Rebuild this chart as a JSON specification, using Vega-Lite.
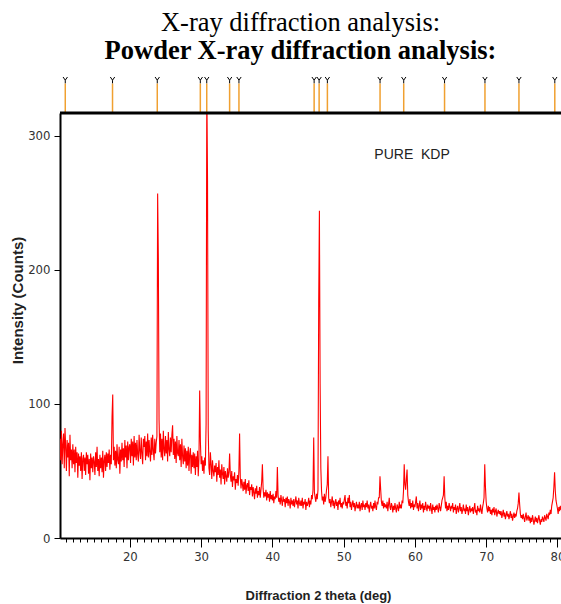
{
  "$schema": "https://vega.github.io/schema/vega-lite/v6.json",
  "width": 501,
  "height": 425,
  "autosize": {"type": "none"},
  "padding": {"left": 60, "top": 113, "right": 0, "bottom": 66},
  "background": "white",
  "title": {
    "text": "X-ray diffraction analysis:",
    "subtitle": "Powder X-ray diffraction analysis:",
    "font": "Liberation Serif", "fontSize": 26.5, "fontWeight": "normal", "color": "black",
    "subtitleFont": "Liberation Serif", "subtitleFontSize": 26.5, "subtitleFontWeight": "bold", "subtitleColor": "black",
    "subtitlePadding": 2,
    "anchor": "middle", "dx": -10, "offset": 10
  },
  "config": {"view": {"stroke": null}},
  "datasets": {
    "scan": [
      {"theta":10.2,"counts":74},{"theta":10.3,"counts":58},{"theta":10.4,"counts":80},{"theta":10.5,"counts":55},{"theta":10.6,"counts":70},{"theta":10.7,"counts":78},{"theta":10.8,"counts":52},{"theta":10.9,"counts":82},
      {"theta":11.0,"counts":68},{"theta":11.1,"counts":50},{"theta":11.2,"counts":73},{"theta":11.3,"counts":60},{"theta":11.4,"counts":71},{"theta":11.5,"counts":46},{"theta":11.6,"counts":77},{"theta":11.7,"counts":58},{"theta":11.8,"counts":66},{"theta":11.9,"counts":52},
      {"theta":12.0,"counts":70},{"theta":12.1,"counts":55},{"theta":12.2,"counts":66},{"theta":12.3,"counts":49},{"theta":12.4,"counts":68},{"theta":12.5,"counts":56},{"theta":12.6,"counts":64},{"theta":12.7,"counts":45},{"theta":12.8,"counts":63},{"theta":12.9,"counts":54},
      {"theta":13.0,"counts":61},{"theta":13.1,"counts":50},{"theta":13.2,"counts":64},{"theta":13.3,"counts":44},{"theta":13.4,"counts":59},{"theta":13.5,"counts":62},{"theta":13.6,"counts":50},{"theta":13.7,"counts":60},{"theta":13.8,"counts":47},{"theta":13.9,"counts":64},
      {"theta":14.0,"counts":55},{"theta":14.1,"counts":62},{"theta":14.2,"counts":48},{"theta":14.3,"counts":59},{"theta":14.4,"counts":43},{"theta":14.5,"counts":63},{"theta":14.6,"counts":52},{"theta":14.7,"counts":60},{"theta":14.8,"counts":49},{"theta":14.9,"counts":61},
      {"theta":15.0,"counts":57},{"theta":15.1,"counts":47},{"theta":15.2,"counts":64},{"theta":15.3,"counts":53},{"theta":15.4,"counts":68},{"theta":15.5,"counts":50},{"theta":15.6,"counts":59},{"theta":15.7,"counts":46},{"theta":15.8,"counts":62},{"theta":15.9,"counts":52},
      {"theta":16.0,"counts":60},{"theta":16.1,"counts":49},{"theta":16.2,"counts":65},{"theta":16.3,"counts":45},{"theta":16.4,"counts":58},{"theta":16.5,"counts":62},{"theta":16.6,"counts":50},{"theta":16.7,"counts":64},{"theta":16.8,"counts":53},{"theta":16.9,"counts":63},
      {"theta":17.0,"counts":56},{"theta":17.1,"counts":66},{"theta":17.2,"counts":51},{"theta":17.3,"counts":62},{"theta":17.4,"counts":55},{"theta":17.5,"counts":90},{"theta":17.6,"counts":107},{"theta":17.7,"counts":58},{"theta":17.8,"counts":68},{"theta":17.9,"counts":54},
      {"theta":18.0,"counts":65},{"theta":18.1,"counts":52},{"theta":18.2,"counts":70},{"theta":18.3,"counts":58},{"theta":18.4,"counts":55},{"theta":18.5,"counts":68},{"theta":18.6,"counts":48},{"theta":18.7,"counts":66},{"theta":18.8,"counts":57},{"theta":18.9,"counts":71},
      {"theta":19.0,"counts":58},{"theta":19.1,"counts":67},{"theta":19.2,"counts":53},{"theta":19.3,"counts":73},{"theta":19.4,"counts":60},{"theta":19.5,"counts":69},{"theta":19.6,"counts":52},{"theta":19.7,"counts":72},{"theta":19.8,"counts":58},{"theta":19.9,"counts":68},
      {"theta":20.0,"counts":70},{"theta":20.1,"counts":56},{"theta":20.2,"counts":74},{"theta":20.3,"counts":61},{"theta":20.4,"counts":72},{"theta":20.5,"counts":54},{"theta":20.6,"counts":76},{"theta":20.7,"counts":60},{"theta":20.8,"counts":71},{"theta":20.9,"counts":58},
      {"theta":21.0,"counts":73},{"theta":21.1,"counts":62},{"theta":21.2,"counts":57},{"theta":21.3,"counts":77},{"theta":21.4,"counts":65},{"theta":21.5,"counts":59},{"theta":21.6,"counts":75},{"theta":21.7,"counts":63},{"theta":21.8,"counts":55},{"theta":21.9,"counts":74},
      {"theta":22.0,"counts":68},{"theta":22.1,"counts":76},{"theta":22.2,"counts":58},{"theta":22.3,"counts":72},{"theta":22.4,"counts":61},{"theta":22.5,"counts":78},{"theta":22.6,"counts":60},{"theta":22.7,"counts":73},{"theta":22.8,"counts":64},{"theta":22.9,"counts":57},
      {"theta":23.0,"counts":75},{"theta":23.1,"counts":62},{"theta":23.2,"counts":77},{"theta":23.3,"counts":65},{"theta":23.4,"counts":58},{"theta":23.5,"counts":74},{"theta":23.6,"counts":63},{"theta":23.7,"counts":71},{"theta":23.8,"counts":76},{"theta":23.9,"counts":257},
      {"theta":24.0,"counts":209},{"theta":24.1,"counts":88},{"theta":24.2,"counts":64},{"theta":24.3,"counts":78},{"theta":24.4,"counts":60},{"theta":24.5,"counts":74},{"theta":24.6,"counts":58},{"theta":24.7,"counts":80},{"theta":24.8,"counts":66},{"theta":24.9,"counts":61},
      {"theta":25.0,"counts":76},{"theta":25.1,"counts":63},{"theta":25.2,"counts":73},{"theta":25.3,"counts":57},{"theta":25.4,"counts":79},{"theta":25.5,"counts":66},{"theta":25.6,"counts":61},{"theta":25.7,"counts":75},{"theta":25.8,"counts":64},{"theta":25.9,"counts":77},
      {"theta":26.0,"counts":84},{"theta":26.1,"counts":62},{"theta":26.2,"counts":74},{"theta":26.3,"counts":59},{"theta":26.4,"counts":72},{"theta":26.5,"counts":56},{"theta":26.6,"counts":76},{"theta":26.7,"counts":63},{"theta":26.8,"counts":61},{"theta":26.9,"counts":73},
      {"theta":27.0,"counts":58},{"theta":27.1,"counts":70},{"theta":27.2,"counts":53},{"theta":27.3,"counts":74},{"theta":27.4,"counts":61},{"theta":27.5,"counts":55},{"theta":27.6,"counts":69},{"theta":27.7,"counts":57},{"theta":27.8,"counts":67},{"theta":27.9,"counts":52},
      {"theta":28.0,"counts":65},{"theta":28.1,"counts":54},{"theta":28.2,"counts":68},{"theta":28.3,"counts":50},{"theta":28.4,"counts":63},{"theta":28.5,"counts":67},{"theta":28.6,"counts":48},{"theta":28.7,"counts":62},{"theta":28.8,"counts":53},{"theta":28.9,"counts":64},
      {"theta":29.0,"counts":52},{"theta":29.1,"counts":63},{"theta":29.2,"counts":47},{"theta":29.3,"counts":61},{"theta":29.4,"counts":53},{"theta":29.5,"counts":65},{"theta":29.6,"counts":46},{"theta":29.7,"counts":59},{"theta":29.8,"counts":110},{"theta":29.9,"counts":72},
      {"theta":30.0,"counts":55},{"theta":30.1,"counts":61},{"theta":30.2,"counts":50},{"theta":30.3,"counts":58},{"theta":30.4,"counts":48},{"theta":30.5,"counts":60},{"theta":30.6,"counts":54},{"theta":30.7,"counts":85},{"theta":30.8,"counts":340},{"theta":30.9,"counts":267},
      {"theta":31.0,"counts":80},{"theta":31.1,"counts":52},{"theta":31.2,"counts":47},{"theta":31.3,"counts":64},{"theta":31.4,"counts":55},{"theta":31.5,"counts":44},{"theta":31.6,"counts":58},{"theta":31.7,"counts":50},{"theta":31.8,"counts":46},{"theta":31.9,"counts":54},
      {"theta":32.0,"counts":49},{"theta":32.1,"counts":56},{"theta":32.2,"counts":42},{"theta":32.3,"counts":53},{"theta":32.4,"counts":47},{"theta":32.5,"counts":58},{"theta":32.6,"counts":45},{"theta":32.7,"counts":51},{"theta":32.8,"counts":40},{"theta":32.9,"counts":55},
      {"theta":33.0,"counts":48},{"theta":33.1,"counts":44},{"theta":33.2,"counts":53},{"theta":33.3,"counts":40},{"theta":33.4,"counts":50},{"theta":33.5,"counts":46},{"theta":33.6,"counts":42},{"theta":33.7,"counts":52},{"theta":33.8,"counts":45},{"theta":33.9,"counts":49},
      {"theta":34.0,"counts":63},{"theta":34.1,"counts":47},{"theta":34.2,"counts":42},{"theta":34.3,"counts":50},{"theta":34.4,"counts":38},{"theta":34.5,"counts":46},{"theta":34.6,"counts":43},{"theta":34.7,"counts":49},{"theta":34.8,"counts":36},{"theta":34.9,"counts":44},
      {"theta":35.0,"counts":41},{"theta":35.1,"counts":47},{"theta":35.2,"counts":39},{"theta":35.3,"counts":50},{"theta":35.4,"counts":78},{"theta":35.5,"counts":45},{"theta":35.6,"counts":37},{"theta":35.7,"counts":44},{"theta":35.8,"counts":40},{"theta":35.9,"counts":35},
      {"theta":36.0,"counts":42},{"theta":36.1,"counts":36},{"theta":36.2,"counts":44},{"theta":36.3,"counts":33},{"theta":36.4,"counts":39},{"theta":36.5,"counts":41},{"theta":36.6,"counts":35},{"theta":36.7,"counts":43},{"theta":36.8,"counts":32},{"theta":36.9,"counts":38},
      {"theta":37.0,"counts":36},{"theta":37.1,"counts":40},{"theta":37.2,"counts":31},{"theta":37.3,"counts":38},{"theta":37.4,"counts":34},{"theta":37.5,"counts":29},{"theta":37.6,"counts":37},{"theta":37.7,"counts":33},{"theta":37.8,"counts":39},{"theta":37.9,"counts":30},
      {"theta":38.0,"counts":35},{"theta":38.1,"counts":32},{"theta":38.2,"counts":38},{"theta":38.3,"counts":30},{"theta":38.4,"counts":36},{"theta":38.5,"counts":42},{"theta":38.6,"counts":55},{"theta":38.7,"counts":37},{"theta":38.8,"counts":30},{"theta":38.9,"counts":34},
      {"theta":39.0,"counts":31},{"theta":39.1,"counts":36},{"theta":39.2,"counts":28},{"theta":39.3,"counts":34},{"theta":39.4,"counts":30},{"theta":39.5,"counts":33},{"theta":39.6,"counts":27},{"theta":39.7,"counts":35},{"theta":39.8,"counts":29},{"theta":39.9,"counts":32},
      {"theta":40.0,"counts":28},{"theta":40.1,"counts":33},{"theta":40.2,"counts":26},{"theta":40.3,"counts":31},{"theta":40.4,"counts":29},{"theta":40.5,"counts":35},{"theta":40.6,"counts":30},{"theta":40.7,"counts":53},{"theta":40.8,"counts":32},{"theta":40.9,"counts":27},
      {"theta":41.0,"counts":30},{"theta":41.1,"counts":25},{"theta":41.2,"counts":32},{"theta":41.3,"counts":28},{"theta":41.4,"counts":24},{"theta":41.5,"counts":31},{"theta":41.6,"counts":27},{"theta":41.7,"counts":29},{"theta":41.8,"counts":23},{"theta":41.9,"counts":30},
      {"theta":42.0,"counts":26},{"theta":42.1,"counts":31},{"theta":42.2,"counts":24},{"theta":42.3,"counts":29},{"theta":42.4,"counts":27},{"theta":42.5,"counts":22},{"theta":42.6,"counts":30},{"theta":42.7,"counts":25},{"theta":42.8,"counts":28},{"theta":42.9,"counts":24},
      {"theta":43.0,"counts":29},{"theta":43.1,"counts":23},{"theta":43.2,"counts":27},{"theta":43.3,"counts":31},{"theta":43.4,"counts":25},{"theta":43.5,"counts":28},{"theta":43.6,"counts":22},{"theta":43.7,"counts":30},{"theta":43.8,"counts":26},{"theta":43.9,"counts":24},
      {"theta":44.0,"counts":28},{"theta":44.1,"counts":24},{"theta":44.2,"counts":30},{"theta":44.3,"counts":22},{"theta":44.4,"counts":27},{"theta":44.5,"counts":25},{"theta":44.6,"counts":29},{"theta":44.7,"counts":21},{"theta":44.8,"counts":27},{"theta":44.9,"counts":24},
      {"theta":45.0,"counts":26},{"theta":45.1,"counts":30},{"theta":45.2,"counts":23},{"theta":45.3,"counts":28},{"theta":45.4,"counts":25},{"theta":45.5,"counts":32},{"theta":45.6,"counts":29},{"theta":45.7,"counts":36},{"theta":45.8,"counts":75},{"theta":45.9,"counts":34},
      {"theta":46.0,"counts":30},{"theta":46.1,"counts":27},{"theta":46.2,"counts":33},{"theta":46.3,"counts":29},{"theta":46.4,"counts":36},{"theta":46.5,"counts":175},{"theta":46.6,"counts":244},{"theta":46.7,"counts":115},{"theta":46.8,"counts":52},{"theta":46.9,"counts":35},
      {"theta":47.0,"counts":28},{"theta":47.1,"counts":31},{"theta":47.2,"counts":25},{"theta":47.3,"counts":33},{"theta":47.4,"counts":27},{"theta":47.5,"counts":30},{"theta":47.6,"counts":36},{"theta":47.7,"counts":40},{"theta":47.8,"counts":61},{"theta":47.9,"counts":30},
      {"theta":48.0,"counts":26},{"theta":48.1,"counts":29},{"theta":48.2,"counts":23},{"theta":48.3,"counts":27},{"theta":48.4,"counts":31},{"theta":48.5,"counts":24},{"theta":48.6,"counts":28},{"theta":48.7,"counts":22},{"theta":48.8,"counts":26},{"theta":48.9,"counts":29},
      {"theta":49.0,"counts":24},{"theta":49.1,"counts":27},{"theta":49.2,"counts":21},{"theta":49.3,"counts":28},{"theta":49.4,"counts":25},{"theta":49.5,"counts":30},{"theta":49.6,"counts":23},{"theta":49.7,"counts":26},{"theta":49.8,"counts":22},{"theta":49.9,"counts":27},
      {"theta":50.0,"counts":25},{"theta":50.1,"counts":29},{"theta":50.2,"counts":32},{"theta":50.3,"counts":24},{"theta":50.4,"counts":27},{"theta":50.5,"counts":22},{"theta":50.6,"counts":30},{"theta":50.7,"counts":26},{"theta":50.8,"counts":32},{"theta":50.9,"counts":23},
      {"theta":51.0,"counts":27},{"theta":51.1,"counts":21},{"theta":51.2,"counts":25},{"theta":51.3,"counts":28},{"theta":51.4,"counts":23},{"theta":51.5,"counts":26},{"theta":51.6,"counts":20},{"theta":51.7,"counts":24},{"theta":51.8,"counts":27},{"theta":51.9,"counts":22},
      {"theta":52.0,"counts":25},{"theta":52.1,"counts":22},{"theta":52.2,"counts":27},{"theta":52.3,"counts":20},{"theta":52.4,"counts":24},{"theta":52.5,"counts":26},{"theta":52.6,"counts":21},{"theta":52.7,"counts":28},{"theta":52.8,"counts":23},{"theta":52.9,"counts":25},
      {"theta":53.0,"counts":21},{"theta":53.1,"counts":26},{"theta":53.2,"counts":23},{"theta":53.3,"counts":28},{"theta":53.4,"counts":22},{"theta":53.5,"counts":25},{"theta":53.6,"counts":19},{"theta":53.7,"counts":24},{"theta":53.8,"counts":27},{"theta":53.9,"counts":22},
      {"theta":54.0,"counts":24},{"theta":54.1,"counts":20},{"theta":54.2,"counts":26},{"theta":54.3,"counts":22},{"theta":54.4,"counts":28},{"theta":54.5,"counts":23},{"theta":54.6,"counts":21},{"theta":54.7,"counts":27},{"theta":54.8,"counts":25},{"theta":54.9,"counts":30},
      {"theta":55.0,"counts":30},{"theta":55.1,"counts":46},{"theta":55.2,"counts":36},{"theta":55.3,"counts":27},{"theta":55.4,"counts":24},{"theta":55.5,"counts":28},{"theta":55.6,"counts":22},{"theta":55.7,"counts":26},{"theta":55.8,"counts":23},{"theta":55.9,"counts":25},
      {"theta":56.0,"counts":22},{"theta":56.1,"counts":27},{"theta":56.2,"counts":20},{"theta":56.3,"counts":25},{"theta":56.4,"counts":30},{"theta":56.5,"counts":23},{"theta":56.6,"counts":21},{"theta":56.7,"counts":26},{"theta":56.8,"counts":24},{"theta":56.9,"counts":19},
      {"theta":57.0,"counts":24},{"theta":57.1,"counts":21},{"theta":57.2,"counts":26},{"theta":57.3,"counts":22},{"theta":57.4,"counts":19},{"theta":57.5,"counts":25},{"theta":57.6,"counts":23},{"theta":57.7,"counts":20},{"theta":57.8,"counts":27},{"theta":57.9,"counts":22},
      {"theta":58.0,"counts":25},{"theta":58.1,"counts":22},{"theta":58.2,"counts":28},{"theta":58.3,"counts":26},{"theta":58.4,"counts":35},{"theta":58.5,"counts":55},{"theta":58.6,"counts":40},{"theta":58.7,"counts":36},{"theta":58.8,"counts":44},{"theta":58.9,"counts":51},
      {"theta":59.0,"counts":32},{"theta":59.1,"counts":27},{"theta":59.2,"counts":24},{"theta":59.3,"counts":29},{"theta":59.4,"counts":22},{"theta":59.5,"counts":26},{"theta":59.6,"counts":23},{"theta":59.7,"counts":28},{"theta":59.8,"counts":21},{"theta":59.9,"counts":25},
      {"theta":60.0,"counts":23},{"theta":60.1,"counts":27},{"theta":60.2,"counts":31},{"theta":60.3,"counts":22},{"theta":60.4,"counts":26},{"theta":60.5,"counts":20},{"theta":60.6,"counts":24},{"theta":60.7,"counts":28},{"theta":60.8,"counts":21},{"theta":60.9,"counts":25},
      {"theta":61.0,"counts":22},{"theta":61.1,"counts":26},{"theta":61.2,"counts":19},{"theta":61.3,"counts":24},{"theta":61.4,"counts":21},{"theta":61.5,"counts":27},{"theta":61.6,"counts":23},{"theta":61.7,"counts":20},{"theta":61.8,"counts":25},{"theta":61.9,"counts":22},
      {"theta":62.0,"counts":24},{"theta":62.1,"counts":20},{"theta":62.2,"counts":26},{"theta":62.3,"counts":22},{"theta":62.4,"counts":18},{"theta":62.5,"counts":25},{"theta":62.6,"counts":21},{"theta":62.7,"counts":23},{"theta":62.8,"counts":19},{"theta":62.9,"counts":24},
      {"theta":63.0,"counts":21},{"theta":63.1,"counts":25},{"theta":63.2,"counts":22},{"theta":63.3,"counts":19},{"theta":63.4,"counts":26},{"theta":63.5,"counts":23},{"theta":63.6,"counts":20},{"theta":63.7,"counts":24},{"theta":63.8,"counts":28},{"theta":63.9,"counts":30},
      {"theta":64.0,"counts":32},{"theta":64.1,"counts":46},{"theta":64.2,"counts":30},{"theta":64.3,"counts":22},{"theta":64.4,"counts":27},{"theta":64.5,"counts":20},{"theta":64.6,"counts":24},{"theta":64.7,"counts":21},{"theta":64.8,"counts":26},{"theta":64.9,"counts":23},
      {"theta":65.0,"counts":20},{"theta":65.1,"counts":24},{"theta":65.2,"counts":22},{"theta":65.3,"counts":26},{"theta":65.4,"counts":19},{"theta":65.5,"counts":23},{"theta":65.6,"counts":21},{"theta":65.7,"counts":25},{"theta":65.8,"counts":18},{"theta":65.9,"counts":22},
      {"theta":66.0,"counts":24},{"theta":66.1,"counts":19},{"theta":66.2,"counts":22},{"theta":66.3,"counts":26},{"theta":66.4,"counts":20},{"theta":66.5,"counts":23},{"theta":66.6,"counts":18},{"theta":66.7,"counts":21},{"theta":66.8,"counts":25},{"theta":66.9,"counts":20},
      {"theta":67.0,"counts":22},{"theta":67.1,"counts":18},{"theta":67.2,"counts":25},{"theta":67.3,"counts":20},{"theta":67.4,"counts":23},{"theta":67.5,"counts":17},{"theta":67.6,"counts":21},{"theta":67.7,"counts":24},{"theta":67.8,"counts":19},{"theta":67.9,"counts":22},
      {"theta":68.0,"counts":20},{"theta":68.1,"counts":23},{"theta":68.2,"counts":18},{"theta":68.3,"counts":22},{"theta":68.4,"counts":26},{"theta":68.5,"counts":19},{"theta":68.6,"counts":21},{"theta":68.7,"counts":17},{"theta":68.8,"counts":24},{"theta":68.9,"counts":20},
      {"theta":69.0,"counts":22},{"theta":69.1,"counts":19},{"theta":69.2,"counts":25},{"theta":69.3,"counts":21},{"theta":69.4,"counts":18},{"theta":69.5,"counts":23},{"theta":69.6,"counts":26},{"theta":69.7,"counts":30},{"theta":69.8,"counts":55},{"theta":69.9,"counts":38},
      {"theta":70.0,"counts":27},{"theta":70.1,"counts":22},{"theta":70.2,"counts":19},{"theta":70.3,"counts":24},{"theta":70.4,"counts":20},{"theta":70.5,"counts":23},{"theta":70.6,"counts":18},{"theta":70.7,"counts":21},{"theta":70.8,"counts":17},{"theta":70.9,"counts":22},
      {"theta":71.0,"counts":19},{"theta":71.1,"counts":23},{"theta":71.2,"counts":17},{"theta":71.3,"counts":20},{"theta":71.4,"counts":22},{"theta":71.5,"counts":16},{"theta":71.6,"counts":19},{"theta":71.7,"counts":21},{"theta":71.8,"counts":18},{"theta":71.9,"counts":20},
      {"theta":72.0,"counts":17},{"theta":72.1,"counts":20},{"theta":72.2,"counts":15},{"theta":72.3,"counts":18},{"theta":72.4,"counts":21},{"theta":72.5,"counts":16},{"theta":72.6,"counts":19},{"theta":72.7,"counts":14},{"theta":72.8,"counts":17},{"theta":72.9,"counts":20},
      {"theta":73.0,"counts":16},{"theta":73.1,"counts":18},{"theta":73.2,"counts":14},{"theta":73.3,"counts":17},{"theta":73.4,"counts":20},{"theta":73.5,"counts":15},{"theta":73.6,"counts":18},{"theta":73.7,"counts":13},{"theta":73.8,"counts":16},{"theta":73.9,"counts":19},
      {"theta":74.0,"counts":15},{"theta":74.1,"counts":18},{"theta":74.2,"counts":16},{"theta":74.3,"counts":20},{"theta":74.4,"counts":22},{"theta":74.5,"counts":26},{"theta":74.6,"counts":34},{"theta":74.7,"counts":25},{"theta":74.8,"counts":18},{"theta":74.9,"counts":15},
      {"theta":75.0,"counts":17},{"theta":75.1,"counts":14},{"theta":75.2,"counts":18},{"theta":75.3,"counts":15},{"theta":75.4,"counts":12},{"theta":75.5,"counts":16},{"theta":75.6,"counts":19},{"theta":75.7,"counts":13},{"theta":75.8,"counts":15},{"theta":75.9,"counts":17},
      {"theta":76.0,"counts":13},{"theta":76.1,"counts":16},{"theta":76.2,"counts":11},{"theta":76.3,"counts":15},{"theta":76.4,"counts":12},{"theta":76.5,"counts":17},{"theta":76.6,"counts":14},{"theta":76.7,"counts":10},{"theta":76.8,"counts":13},{"theta":76.9,"counts":16},
      {"theta":77.0,"counts":12},{"theta":77.1,"counts":15},{"theta":77.2,"counts":11},{"theta":77.3,"counts":14},{"theta":77.4,"counts":17},{"theta":77.5,"counts":13},{"theta":77.6,"counts":10},{"theta":77.7,"counts":14},{"theta":77.8,"counts":12},{"theta":77.9,"counts":16},
      {"theta":78.0,"counts":14},{"theta":78.1,"counts":12},{"theta":78.2,"counts":17},{"theta":78.3,"counts":15},{"theta":78.4,"counts":13},{"theta":78.5,"counts":18},{"theta":78.6,"counts":16},{"theta":78.7,"counts":14},{"theta":78.8,"counts":19},{"theta":78.9,"counts":17},
      {"theta":79.0,"counts":21},{"theta":79.1,"counts":18},{"theta":79.2,"counts":24},{"theta":79.3,"counts":27},{"theta":79.4,"counts":30},{"theta":79.5,"counts":38},{"theta":79.6,"counts":49},{"theta":79.7,"counts":35},{"theta":79.8,"counts":28},{"theta":79.9,"counts":25},
      {"theta":80.0,"counts":22},{"theta":80.1,"counts":18},{"theta":80.2,"counts":23},{"theta":80.3,"counts":20},{"theta":80.4,"counts":24},{"theta":80.5,"counts":21}
    ],
    "lines": [
      {"theta":10.94},{"theta":17.57},{"theta":23.85},{"theta":29.89},{"theta":30.79},{"theta":34.0},{"theta":35.31},{"theta":45.86},{"theta":46.56},{"theta":47.72},{"theta":55.11},{"theta":58.43},{"theta":64.16},{"theta":69.83},{"theta":74.6},{"theta":79.63}
    ]
  },
  "layer": [
    {
      "data": {"name": "scan"},
      "mark": {"type": "line", "color": "#ff0000", "strokeWidth": 1.1, "clip": true},
      "encoding": {
        "x": {
          "field": "theta", "type": "quantitative",
          "scale": {"domain": [10.2, 80.5], "nice": false, "zero": false},
          "axis": {
            "values": [11,12,13,14,15,16,17,18,19,20,21,22,23,24,25,26,27,28,29,30,31,32,33,34,35,36,37,38,39,40,41,42,43,44,45,46,47,48,49,50,51,52,53,54,55,56,57,58,59,60,61,62,63,64,65,66,67,68,69,70,71,72,73,74,75,76,77,78,79,80],
            "tickCount": 200,
            "format": "d",
            "title": "Diffraction 2 theta (deg)",
            "titleFont": "Liberation Sans", "titleFontSize": 13, "titleFontWeight": "bold", "titleColor": "#222",
            "titleX": 258, "titleY": 51, "titleBaseline": "top",
            "labelExpr": "datum.value % 10 === 0 ? datum.label : ''",
            "labelFont": "Liberation Sans Narrow, DejaVu Sans Condensed, Liberation Sans",
            "labelFontSize": 13, "labelColor": "#333", "labelPadding": 3, "labelOverlap": false, "labelFlush": false,
            "tickSize": {"condition": {"test": "datum.value % 10 === 0", "value": 9}, "value": 4},
            "tickColor": "black", "tickWidth": 1,
            "domainColor": "black", "domainWidth": 2, "grid": false
          }
        },
        "y": {
          "field": "counts", "type": "quantitative",
          "scale": {"domain": [0, 317], "nice": false},
          "axis": {
            "values": [0, 100, 200, 300],
            "title": "Intensity (Counts)",
            "titleFont": "Liberation Sans", "titleFontSize": 15, "titleFontWeight": "bold", "titleColor": "#222",
            "titleX": -35, "titleY": 187,
            "labelFont": "Liberation Sans Narrow, DejaVu Sans Condensed, Liberation Sans",
            "labelFontSize": 13, "labelColor": "#333", "labelPadding": 4,
            "tickSize": 6, "tickColor": "black", "domainColor": "black", "domainWidth": 2, "grid": false
          }
        }
      }
    },
    {
      "data": {"name": "lines"},
      "mark": {"type": "rule", "color": "#f0a030", "strokeWidth": 1.5},
      "encoding": {
        "x": {"field": "theta", "type": "quantitative"},
        "y": {"datum": 317},
        "y2": {"datum": 339}
      }
    },
    {
      "data": {"name": "lines"},
      "mark": {"type": "point", "shape": "M-0.7,-1L0,0L0.7,-1M0,0L0,1", "size": 40, "stroke": "black", "strokeWidth": 1, "filled": false, "opacity": 1},
      "encoding": {
        "x": {"field": "theta", "type": "quantitative"},
        "y": {"datum": 341.5}
      }
    },
    {
      "data": {"values": [{}]},
      "mark": {"type": "rule", "color": "black", "strokeWidth": 3},
      "encoding": {"y": {"datum": 317}}
    },
    {
      "data": {"values": [{}]},
      "mark": {"type": "text", "font": "Liberation Sans", "fontSize": 14, "color": "#222", "align": "center", "baseline": "middle"},
      "encoding": {
        "x": {"datum": 59.6},
        "y": {"datum": 286},
        "text": {"value": "PURE\u00a0\u00a0KDP"}
      }
    }
  ]
}
